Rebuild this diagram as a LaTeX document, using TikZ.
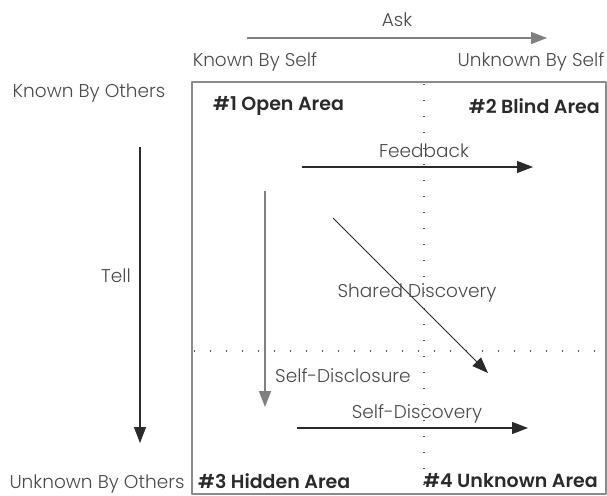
\documentclass[tikz,border=0pt]{standalone}
\usepackage{fontspec}
\setmainfont{Poppins}[UprightFont=* Light, BoldFont=* SemiBold]
\usetikzlibrary{arrows.meta}
\definecolor{txtgray}{HTML}{4A4A4A}
\definecolor{inkdark}{HTML}{2A2A2A}
\definecolor{boxgray}{HTML}{8A8A8A}
\tikzset{
  lbl/.style={text=txtgray, inner sep=0pt, font=\fontsize{18.5}{20}\selectfont},
  area/.style={text=inkdark, inner sep=0pt, font=\fontsize{19}{21}\selectfont\bfseries},
  flow/.style={->, draw=inkdark, line width=1.1pt},
  flowlight/.style={->, draw=gray, line width=1.6pt},
  grid dots/.style={draw=inkdark!80, line width=1.2pt, dash pattern=on 1.2pt off 14.8pt}
}
\begin{document}
\begin{tikzpicture}[x=1pt, y=-1pt, line join=round, >={Triangle[length=16pt,width=12pt]}]
\useasboundingbox (0,0) rectangle (607,495);
\path
(192,82) coordinate (TL)
(606,494) coordinate (BR)
(424,84) coordinate (VT)
(424,492) coordinate (VB)
(194,351) coordinate (HL)
(604,351) coordinate (HR)
(247,38) coordinate (A1) (547,38) coordinate (A2)
(140,147) coordinate (T1) (140,443) coordinate (T2)
(302,167) coordinate (F1) (533,167) coordinate (F2)
(265,191) coordinate (D1) (265,407) coordinate (D2)
(333,218) coordinate (S1) (488,373) coordinate (S2)
(297,428) coordinate (E1) (528,428) coordinate (E2)
;
% the window
\draw[boxgray, line width=1.3pt] (TL) rectangle (BR);
\draw[grid dots] (VT)--(VB) (HL)--(HR);
% arrows
\draw[flowlight] (A1)--(A2);
\draw[flow] (T1)--(T2);
\draw[flow] (F1)--(F2);
\draw[flowlight] (D1)--(D2);
\draw[flow, line width=0.8pt] (S1)--(S2);
\draw[flow] (E1)--(E2);
% labels
\node[lbl] (ask) at (397,20) {Ask};
\node[lbl] (kbs) at (255,62) {Known By Self};
\node[lbl] (ubs) at (531,62) {Unknown By Self};
\node[lbl] (kbo) at (89,93) {Known By Others};
\node[lbl] (ubo) at (97,484) {Unknown By Others};
\node[lbl, anchor=east] (tell) at (131,276) {Tell};
\node[lbl] (fb) at (424,151) {Feedback};
\node[lbl] (sd) at (417,293) {Shared Discovery};
\node[lbl, anchor=west] (sdis) at (275,376) {Self-Disclosure};
\node[lbl] (sdisc) at (417,414) {Self-Discovery};
\node[area, anchor=west] (a1) at (213,106) {\#1 Open Area};
\node[area, anchor=east] (a2) at (600,106) {\#2 Blind Area};
\node[area, anchor=west] (a3) at (198,481) {\#3 Hidden Area};
\node[area, anchor=east] (a4) at (598,481) {\#4 Unknown Area};
\end{tikzpicture}
\end{document}
